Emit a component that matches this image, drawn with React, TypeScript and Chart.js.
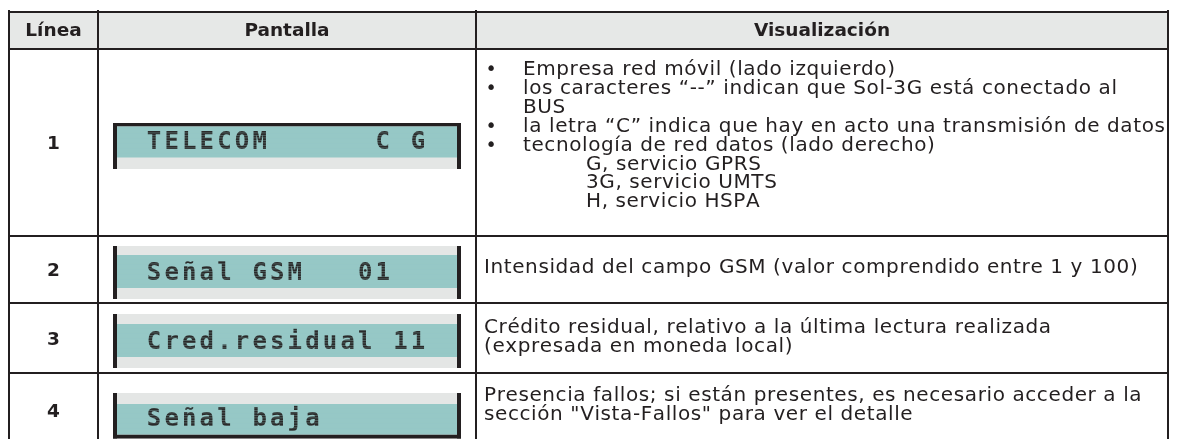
import { useEffect, useRef } from "react";
import { Chart, registerables } from "chart.js";

Chart.register(...registerables);

// ---------- DATA ----------
const HEADERS = ["Línea", "Pantalla", "Visualización"];
const LINE_NUMBERS = ["1", "2", "3", "4"];
const DISPLAY_TEXT = ["TELECOM      C G", "Señal GSM   01", "Cred.residual 11", "Señal baja"];

const DESC_KIND_1 = ["bullet", "bullet", "cont", "bullet", "bullet", "sub", "sub", "sub"];
const DESC_TEXT_1 = [
  "Empresa red móvil (lado izquierdo)",
  "los caracteres “--” indican que Sol-3G está conectado al",
  "BUS",
  "la letra “C” indica que hay en acto una transmisión de datos",
  "tecnología de red datos (lado derecho)",
  "G, servicio GPRS",
  "3G, servicio UMTS",
  "H, servicio HSPA",
];
const DESC_TEXT_2 = ["Intensidad del campo GSM (valor comprendido entre 1 y 100)"];
const DESC_TEXT_3 = [
  "Crédito residual, relativo a la última lectura realizada",
  "(expresada en moneda local)",
];
const DESC_TEXT_4 = [
  "Presencia fallos; si están presentes, es necesario acceder a la",
  "sección \"Vista-Fallos\" para ver el detalle",
];

// ---------- LAYOUT (page units, mapped through the chart's scales) ----------
const W = 1177;
const H = 439;
const COL_EDGES = [9, 98, 476, 1168];
const ROW_EDGES = [12, 49, 236, 303, 373, 447];
const LINE_W = 2;
const LCD_LEFT = 113;
const LCD_RIGHT = 461;
const LCD_BAR = 4;
const LCD_TEAL_OFFSET = [77.5, 19, 21, 31]; // from row top
const LCD_TEAL_H = [31, 33, 33, 30.5];
const LCD_TOP_BAND = [3.5, 9, 10, 11];
const LCD_BOTTOM_BAND = [11.5, 11, 11, 4];
const LCD_TOP_FRAME = [true, false, false, false];
const LCD_BOTTOM_FRAME = [false, false, false, true];
const LCD_CHAR_PITCH = 17.6;
const LCD_FIRST_CENTER = 154;
const DESC_FIRST_BASELINE = [26, 37, 30, 28]; // from row top
const DESC_PITCH = 18.9;
const BULLET_X = 491;
const TEXT_X = 523;
const SUB_X = 586;
const PLAIN_X = 484;

const INK = "#231f20";
const HEAD_BG = "#e6e8e7";
const TEAL = "#96c8c6";
const LCD_GRAY = "#e4e6e5";
const LCD_INK = "#2a2a2a";

const BODY_FONT = "20px 'DejaVu Sans'";
const BODY_LS = 0.6;
const BULLET_FONT = "19px 'DejaVu Sans'";
const HEAD_FONT = "bold 18.5px 'DejaVu Sans'";
const LCD_FONT = "bold 24px 'DejaVu Sans Mono'";

function drawSpaced(ctx: CanvasRenderingContext2D, text: string, x: number, y: number, ls: number) {
  let cx = x;
  ctx.textAlign = "left";
  for (const ch of Array.from(text)) {
    ctx.fillText(ch, cx, y);
    cx += ctx.measureText(ch).width + ls;
  }
}

const tablePlugin = {
  id: "tablePlugin",
  afterDraw(chart: any) {
    const ctx: CanvasRenderingContext2D = chart.ctx;
    const xs = chart.scales.x;
    const ys = chart.scales.y;
    const px = (v: number) => xs.getPixelForValue(v);
    const py = (v: number) => ys.getPixelForValue(v);
    const rect = (x0: number, y0: number, x1: number, y1: number, color: string) => {
      ctx.fillStyle = color;
      const a = px(x0), b = py(y0), c = px(x1), d = py(y1);
      ctx.fillRect(Math.min(a, c), Math.min(b, d), Math.abs(c - a), Math.abs(d - b));
    };

    ctx.save();
    rect(0, 0, W, H, "#ffffff");

    const left = COL_EDGES[0];
    const right = COL_EDGES[COL_EDGES.length - 1];

    rect(left, ROW_EDGES[0], right, ROW_EDGES[1], HEAD_BG);

    ctx.fillStyle = INK;
    ctx.font = HEAD_FONT;
    ctx.textBaseline = "alphabetic";
    ctx.textAlign = "center";
    HEADERS.forEach((h, i) => {
      const cx = (COL_EDGES[i] + COL_EDGES[i + 1]) / 2;
      ctx.fillText(h, px(cx), py(36));
    });

    LINE_NUMBERS.forEach((num, i) => {
      const top = ROW_EDGES[i + 1];
      const bottom = ROW_EDGES[i + 2];
      const center = (top + bottom) / 2;
      ctx.fillStyle = INK;
      ctx.font = HEAD_FONT;
      ctx.textAlign = "center";
      ctx.fillText(num, px((COL_EDGES[0] + COL_EDGES[1]) / 2), py(center + 6.7));

      // LCD display
      const tealTop = top + LCD_TEAL_OFFSET[i];
      const tealBottom = tealTop + LCD_TEAL_H[i];
      const boxTop = tealTop - LCD_TOP_BAND[i];
      const boxBottom = tealBottom + LCD_BOTTOM_BAND[i];
      rect(LCD_LEFT, boxTop, LCD_RIGHT, boxBottom, LCD_GRAY);
      if (LCD_TOP_FRAME[i]) rect(LCD_LEFT, boxTop, LCD_RIGHT, tealTop, INK);
      if (LCD_BOTTOM_FRAME[i]) rect(LCD_LEFT, tealBottom, LCD_RIGHT, boxBottom, INK);
      rect(LCD_LEFT + LCD_BAR, tealTop, LCD_RIGHT - LCD_BAR, tealBottom, TEAL);
      rect(LCD_LEFT, boxTop, LCD_LEFT + LCD_BAR, boxBottom, INK);
      rect(LCD_RIGHT - LCD_BAR, boxTop, LCD_RIGHT, boxBottom, INK);

      ctx.save();
      ctx.beginPath();
      ctx.rect(px(LCD_LEFT + LCD_BAR), py(tealTop), px(LCD_RIGHT - LCD_BAR) - px(LCD_LEFT + LCD_BAR), py(tealBottom) - py(tealTop));
      ctx.clip();
      ctx.fillStyle = LCD_INK;
      ctx.font = LCD_FONT;
      ctx.textAlign = "center";
      Array.from(DISPLAY_TEXT[i]).forEach((ch, k) => {
        if (ch !== " ") ctx.fillText(ch, px(LCD_FIRST_CENTER + k * LCD_CHAR_PITCH), py(tealBottom - 8.5));
      });
      ctx.globalAlpha = 0.4;
      for (let y = tealTop + 1; y < tealBottom; y += 2.5) {
        rect(LCD_LEFT + LCD_BAR, y, LCD_RIGHT - LCD_BAR, y + 0.8, TEAL);
      }
      ctx.restore();

      // descriptions
      ctx.fillStyle = INK;
      const first = top + DESC_FIRST_BASELINE[i];
      if (i === 0) {
        DESC_TEXT_1.forEach((t, k) => {
          const y = first + k * DESC_PITCH;
          const kind = DESC_KIND_1[k];
          if (kind === "bullet") {
            ctx.font = BULLET_FONT;
            ctx.textAlign = "center";
            ctx.fillText("•", px(BULLET_X), py(y));
          }
          ctx.font = BODY_FONT;
          const x = kind === "sub" ? SUB_X : TEXT_X;
          drawSpaced(ctx, t, px(x), py(y), BODY_LS);
        });
      } else {
        ctx.font = BODY_FONT;
        const lines = i === 1 ? DESC_TEXT_2 : i === 2 ? DESC_TEXT_3 : DESC_TEXT_4;
        lines.forEach((t, k) => {
          drawSpaced(ctx, t, px(PLAIN_X), py(first + k * DESC_PITCH), BODY_LS);
        });
      }
    });

    // grid lines
    ctx.strokeStyle = INK;
    ctx.lineWidth = LINE_W;
    ctx.beginPath();
    ROW_EDGES.slice(0, -1).forEach((y) => {
      ctx.moveTo(px(left - 1), py(y));
      ctx.lineTo(px(right + 1), py(y));
    });
    COL_EDGES.forEach((x) => {
      ctx.moveTo(px(x), py(ROW_EDGES[0] - 2));
      ctx.lineTo(px(x), py(ROW_EDGES[ROW_EDGES.length - 1]));
    });
    ctx.stroke();
    ctx.restore();
  },
};

export default function App() {
  const ref = useRef<HTMLCanvasElement | null>(null);
  useEffect(() => {
    document.body.style.margin = "0";
    const canvas = ref.current;
    if (!canvas) return;
    const chart = new Chart(canvas, {
      type: "scatter",
      data: { datasets: [] },
      options: {
        animation: false,
        responsive: false,
        devicePixelRatio: 1,
        layout: { padding: 0 },
        plugins: { legend: { display: false }, tooltip: { enabled: false } },
        scales: {
          x: { type: "linear", min: 0, max: W, display: false },
          y: { type: "linear", min: 0, max: H, reverse: true, display: false },
        },
      },
      plugins: [tablePlugin],
    });
    return () => chart.destroy();
  }, []);
  return <canvas ref={ref} width={W} height={H} style={{ display: "block" }} />;
}
